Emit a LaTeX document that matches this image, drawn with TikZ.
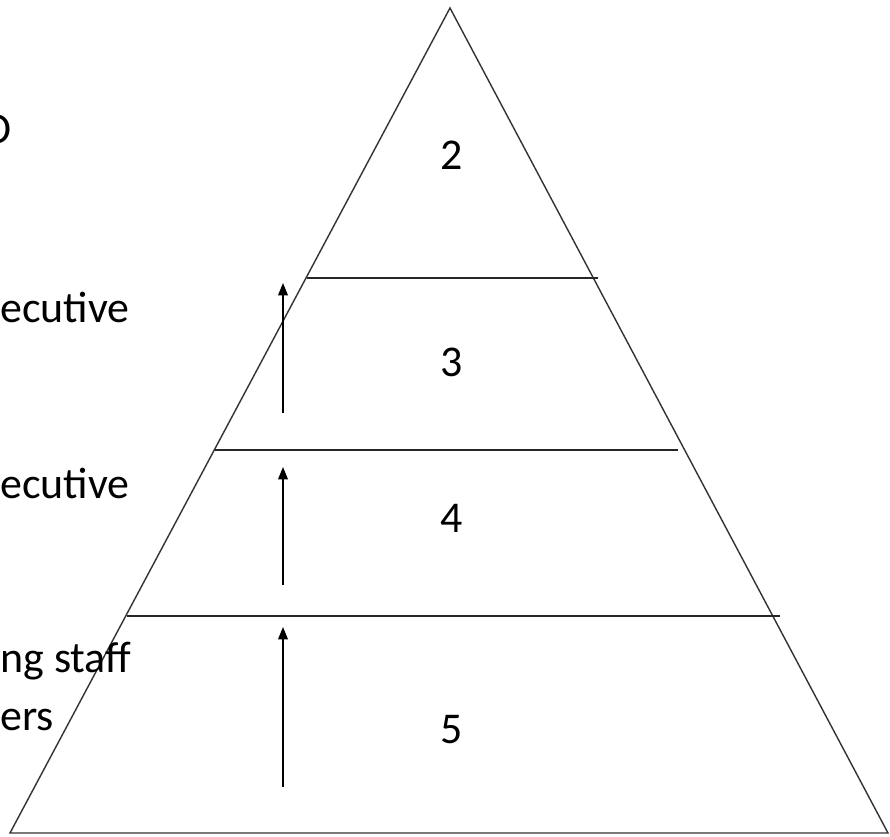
\documentclass[tikz,border=0pt]{standalone}
\usepackage{fontspec}
\setmainfont{Carlito}
\usetikzlibrary{arrows.meta}

\begin{document}
\begin{tikzpicture}
  [x=0.02cm,y=-0.02cm,
   every node/.style={font=\fontsize{25}{32.5}\selectfont,inner sep=0pt},
   level/.style={line width=1pt,black!85},
   up/.style={line width=0.8pt,-{Triangle[length=7pt,width=5.5pt]}}]
  \useasboundingbox (0,0) rectangle (890,836);

  % pyramid
  \coordinate (top) at (450,8);
  \coordinate (bl) at (10,833);
  \coordinate (br) at (888,833);
  \draw[line width=0.8pt,black!80] (top) -- (bl) -- (br) -- cycle;

  % levels
  \coordinate (a1) at (307,278);
  \coordinate (a2) at (598,278);
  \coordinate (b1) at (215,450);
  \coordinate (b2) at (678,450);
  \coordinate (c1) at (127,616);
  \coordinate (c2) at (780,616);
  \foreach \from/\to in {a1/a2,b1/b2,c1/c2}
    \draw[level] (\from) -- (\to);

  % arrows
  \coordinate (u1) at (283,413);
  \coordinate (v1) at (283,283);
  \coordinate (u2) at (283,585);
  \coordinate (v2) at (283,467);
  \coordinate (u3) at (283,787);
  \coordinate (v3) at (283,627);
  \foreach \from/\to in {u1/v1,u2/v2,u3/v3}
    \draw[up] (\from) -- (\to);

  % numbers
  \node (n2) at (452,155) {2};
  \node (n3) at (452,362) {3};
  \node (n4) at (452,518) {4};
  \node (n5) at (452,730) {5};

  % side labels
  \node[anchor=base east] (l1) at (12,143) {O};
  \node[anchor=base west] (l2) at (0,322) {ecutive};
  \node[anchor=base west] (l3) at (0,498) {ecutive};
  \node[anchor=base west,align=left] (l4) at (0,730) {ng staff\\ers};
\end{tikzpicture}
\end{document}
